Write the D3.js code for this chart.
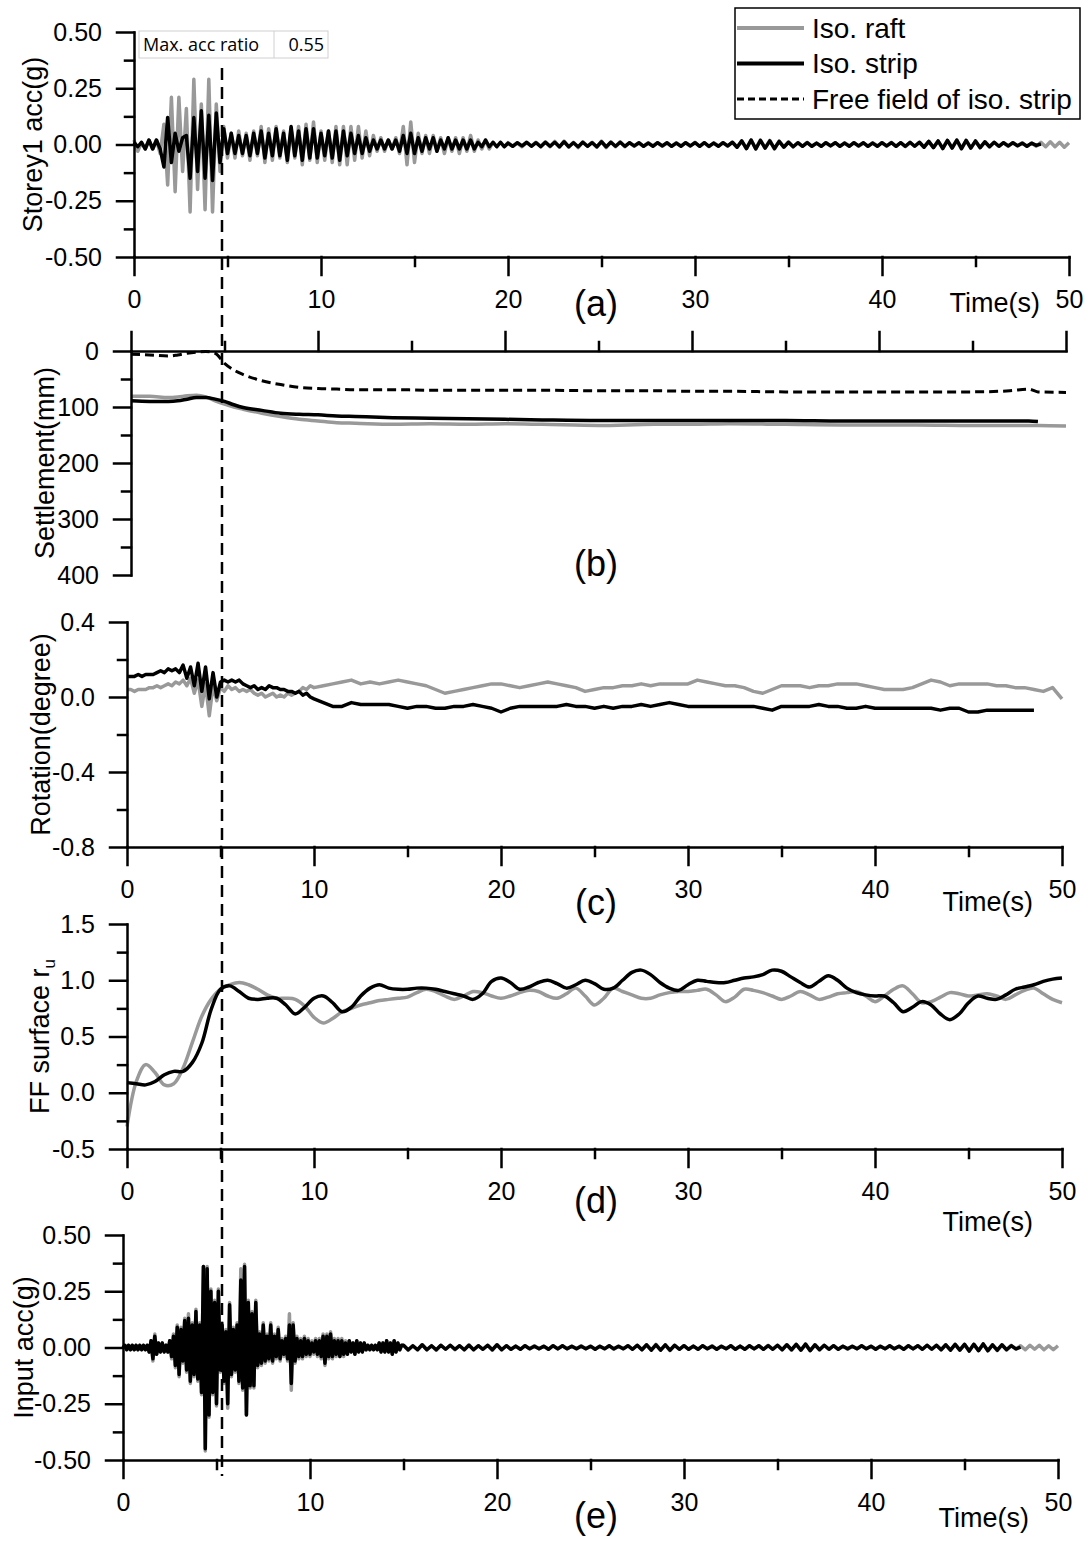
<!DOCTYPE html>
<html lang="en">
<head>
<meta charset="utf-8">
<title>Storey acc, settlement, rotation, r_u and input acc</title>
<script src="https://cdn.jsdelivr.net/npm/d3@7"></script>
<style>
  body { margin: 0; background: #fff; }
  svg text { font-family: "Liberation Sans", Arial, sans-serif; fill: #000; }
  .axis path, .axis line { stroke: #000; stroke-width: 2.5; stroke-linecap: square; }
  .axis text { font-size: 25px; font-family: "Liberation Sans", Arial, sans-serif; }
  .raft { fill: none; stroke: #999; stroke-width: 3.5; stroke-linejoin: round; }
  .strip { fill: none; stroke: #000; stroke-width: 3.5; stroke-linejoin: round; }
  .ff { fill: none; stroke: #000; stroke-width: 3; stroke-dasharray: 9,5; }
</style>
</head>
<body>
<div id="chart"></div>
<script>
// ---- data ----
var timeMajor = [0, 10, 20, 30, 40, 50];
var timeMinor = [5, 15, 25, 35, 45];
var seriesNames = ["Iso. raft", "Iso. strip", "Free field of iso. strip"];
var maxAccRatio = "0.55";

// (a) storey 1 acceleration (g): head every 0.2 s from 0 s, tail every 0.25 s from 20 s
var accRaftHead = [.02,-.03,.01,-.02,.02,-.02,.02,-.04,.09,-.18,
  .21,-.21,.21,-.12,.16,-.30,.29,-.20,.18,-.29,
  .29,-.30,.18,-.12,.08,-.06,.05,-.06,.06,-.05,
  .05,-.07,.06,-.05,.08,-.08,.07,-.07,.08,-.06,
  .06,-.08,.07,-.06,.08,-.09,.09,-.07,.10,-.08,
  .06,-.07,.06,-.08,.08,-.09,.08,-.09,.08,-.07,
  .08,-.06,.06,-.05,.04,-.03,.03,-.03,.02,-.02,
  .03,-.04,.08,-.09,.10,-.08,.05,-.04,.04,-.04,
  .04,-.03,.03,-.04,.03,-.03,.03,-.04,.03,-.03,
  .04,-.03,.02,-.02,.02,-.02,.01,-.01,.01,-.01];
var accRaftTail = [.008,-.008,.006,-.010,.008,-.006,.010,-.008,.012,-.010,.014,-.012,
  .015,-.012,.010,-.014,.012,-.008,.010,-.012,.015,-.014,.012,-.010,
  .012,-.010,.008,-.008,.006,-.008,.008,-.006,.008,-.008,.006,-.008,
  .008,-.006,.008,-.008,.010,-.008,.008,-.010,.008,-.006,.008,-.008,
  .010,-.012,.015,-.018,.020,-.018,.020,-.016,.018,-.020,.015,-.012,
  .012,-.010,.008,-.008,.010,-.008,.006,-.008,.008,-.006,.008,-.008,
  .008,-.006,.008,-.008,.006,-.008,.008,-.006,.008,-.008,.010,-.008,
  .008,-.010,.008,-.008,.010,-.012,.014,-.012,.015,-.016,.018,-.015,
  .018,-.020,.018,-.016,.015,-.014,.012,-.010,.010,-.008,.008,-.008,
  .008,-.006,.008,-.008,.006,-.008,.010,-.010,.012,-.010,.010,-.012,
  .008];
var accStripHead = [.01,-.01,.01,-.02,.02,-.02,.02,-.02,-.10,.12,
  -.08,.05,-.03,.03,.04,-.15,.12,-.12,.15,-.15,
  .13,-.16,.14,-.08,.07,-.04,.05,-.04,.04,-.04,
  .04,-.05,.05,-.04,.06,-.06,.05,-.05,.07,-.05,
  .05,-.07,.08,-.05,.06,-.07,.07,-.06,.07,-.06,
  .05,-.05,.06,-.06,.06,-.07,.06,-.05,.05,-.04,
  .04,-.04,.03,-.03,.02,-.02,.02,-.02,.02,-.02,
  .02,-.03,.04,-.04,.05,-.04,.03,-.03,.03,-.02,
  .03,-.03,.02,-.02,.03,-.02,.02,-.02,.02,-.02,
  .02,-.02,.01,-.01,.02,-.01,.01,-.01,.01,-.01];
var accStripTail = [.006,-.008,.008,-.006,.010,-.008,.008,-.010,.010,-.008,.010,-.010,
  .012,-.010,.008,-.010,.010,-.008,.008,-.010,.012,-.010,.010,-.008,
  .010,-.008,.008,-.006,.008,-.008,.006,-.008,.008,-.006,.008,-.008,
  .006,-.008,.008,-.006,.008,-.008,.008,-.008,.006,-.008,.008,-.006,
  .010,-.012,.016,-.018,.020,-.020,.018,-.016,.016,-.018,.014,-.012,
  .010,-.010,.008,-.008,.008,-.008,.006,-.008,.008,-.006,.008,-.008,
  .006,-.008,.008,-.006,.008,-.008,.006,-.008,.008,-.006,.008,-.008,
  .008,-.008,.010,-.008,.010,-.012,.014,-.014,.016,-.018,.018,-.016,
  .020,-.018,.018,-.016,.016,-.014,.012,-.010,.010,-.008,.008,-.006,
  .008,-.006,.006,-.008,.006,-.004,.002];

// (b) settlement (mm)
var settleT     = [0,1,2,2.5,3,3.5,4,4.5,5,5.5,6,7,8,9,10,11,12,14,16,18,20,22,25,28,30,32,35,38,40,42,45,47,48,48.5,50];
var settleRaft  = [81,81,83,82,80,79,82,89,95,100,104,111,117,122,125,128,129,131,130,131,130,131,133,131,131,130,131,132,132,132,133,133,133,133,134];
var settleStrip = [89,90,90,89,86,83,83,86,90,96,101,106,111,113,114,116,117,119,120,121,122,123,124,124,124,124,124,125,125,125,125,125,125,126,null];
var settleFF    = [6,7,9,7,4,2,1,4,22,34,42,53,60,65,67,68,69,69,70,70,70,70,71,71,72,72,73,73,73,73,73,71,68,73,74];

// (c) rotation (degree): head every 0.2 s from 0 s, tail every 0.5 s from 10 s
var rotRaftHead = [.04,.04,.03,.04,.04,.04,.05,.05,.06,.05,
  .06,.07,.06,.08,.07,.09,.06,.10,.02,.09,
  -.05,.07,-.10,.06,-.02,.05,.03,.06,.04,.05,
  .03,.04,.03,.04,.02,.01,.02,.00,.01,.02,
  .00,.01,.00,.02,.01,.02,.03,.05,.04,.06];
var rotRaftTail = [.05,.06,.07,.08,.09,.07,.08,.07,.08,.09,
  .08,.07,.06,.04,.02,.03,.04,.05,.06,.07,
  .07,.06,.05,.06,.07,.08,.07,.06,.05,.03,
  .04,.05,.05,.06,.06,.07,.06,.07,.07,.07,
  .07,.09,.08,.07,.06,.06,.05,.03,.02,.04,
  .06,.06,.06,.05,.06,.06,.07,.07,.07,.06,
  .05,.04,.04,.04,.05,.07,.09,.08,.06,.07,
  .07,.07,.07,.06,.06,.05,.05,.04,.03,.05,-.01];
var rotStripHead = [.11,.11,.11,.12,.11,.12,.12,.12,.13,.14,
  .13,.15,.14,.15,.13,.17,.10,.16,.06,.18,
  .03,.16,-.01,.13,.00,.08,.09,.08,.09,.08,
  .09,.07,.06,.05,.06,.04,.05,.04,.06,.05,
  .05,.04,.04,.03,.03,.02,.03,.01,.02,.00];
var rotStripTail = [-.01,-.03,-.05,-.05,-.03,-.04,-.04,-.04,-.04,-.05,
  -.06,-.05,-.05,-.06,-.06,-.05,-.05,-.04,-.05,-.06,
  -.08,-.06,-.05,-.05,-.05,-.05,-.05,-.04,-.05,-.05,
  -.06,-.05,-.06,-.05,-.05,-.04,-.05,-.04,-.03,-.04,
  -.05,-.05,-.05,-.05,-.05,-.05,-.05,-.05,-.06,-.07,
  -.05,-.05,-.05,-.05,-.04,-.05,-.05,-.06,-.06,-.05,
  -.06,-.06,-.06,-.06,-.06,-.06,-.06,-.07,-.06,-.06,
  -.08,-.08,-.07,-.07,-.07,-.07,-.07,-.07];

// (d) free-field surface r_u, every 0.5 s from 0 s
var ruRaft = [-.30,.10,.25,.18,.07,.08,.22,.45,.68,.83,
  .92,.96,.98,.96,.92,.87,.84,.84,.83,.77,
  .67,.62,.66,.72,.75,.78,.80,.82,.83,.84,
  .85,.89,.92,.90,.86,.83,.86,.90,.89,.86,
  .84,.86,.89,.91,.90,.86,.84,.88,.93,.86,
  .78,.84,.93,.90,.87,.84,.84,.87,.89,.90,
  .90,.91,.92,.87,.81,.85,.92,.91,.89,.86,
  .83,.86,.90,.87,.83,.85,.88,.89,.90,.86,
  .81,.86,.92,.95,.88,.80,.81,.85,.89,.88,
  .86,.87,.88,.86,.83,.87,.91,.93,.88,.83,.80];
var ruStrip = [.09,.08,.07,.10,.16,.19,.19,.27,.44,.74,
  .92,.95,.90,.84,.83,.84,.84,.78,.70,.76,
  .84,.86,.80,.72,.76,.86,.93,.96,.93,.92,
  .92,.93,.93,.92,.90,.88,.86,.83,.88,.99,
  1.02,.98,.92,.94,.98,1.00,.97,.93,.96,1.00,
  .97,.92,.93,1.00,1.07,1.09,1.05,.98,.93,.91,
  .96,1.00,.99,.98,.98,1.00,1.02,1.03,1.05,1.09,
  1.08,1.03,.98,.94,.99,1.04,1.00,.93,.89,.87,
  .86,.86,.80,.72,.76,.81,.78,.70,.65,.70,
  .80,.86,.84,.83,.87,.92,.94,.96,.99,1.01,1.02];

// (e) input acceleration (g): head every 0.1 s from 0 s, tail every 0.25 s from 15 s
var inRaftHead = [.00,.01,-.01,.01,-.01,.01,-.01,.01,-.01,.01,
  -.01,.01,-.01,.01,-.02,.03,-.06,.06,-.03,.02,
  -.02,.02,-.02,.01,-.02,.03,-.05,.06,-.09,.10,
  -.13,.09,-.07,.13,-.11,.15,-.16,.11,-.13,.17,
  -.15,.11,-.21,.36,-.46,.36,-.31,.26,-.21,.21,
  -.26,.26,-.11,.11,-.16,.08,-.27,.20,-.13,.09,
  -.11,.11,-.16,.35,-.19,.37,-.30,.21,-.18,.16,
  -.18,.21,-.09,.07,-.08,.11,-.07,.06,-.06,.11,
  -.07,.06,-.05,.09,-.06,.04,-.04,.05,-.06,.15,
  -.19,.11,-.07,.05,-.05,.04,-.05,.05,-.04,.04,
  -.04,.03,-.03,.04,-.04,.04,-.05,.06,-.08,.06,
  -.05,.07,-.05,.04,-.04,.04,-.04,.04,-.04,.03,
  -.03,.03,-.02,.02,-.03,.03,-.02,.02,-.02,.02,
  -.01,.01,-.01,.01,-.01,.01,-.01,.02,-.02,.02,
  -.02,.03,-.02,.02,-.03,.03,-.02,.02,-.01,.01];
var inRaftTail = [.010,-.012,.008,-.010,.012,-.010,.008,-.012,.010,-.008,.010,-.010,
  .008,-.010,.012,-.010,.008,-.008,.010,-.012,.012,-.010,.008,-.008,
  .006,-.008,.008,-.006,.008,-.006,.006,-.008,.008,-.006,.008,-.006,
  .006,-.006,.008,-.006,.006,-.008,.006,-.006,.008,-.008,.006,-.006,
  .008,-.008,.010,-.010,.012,-.012,.014,-.012,.012,-.014,.010,-.008,
  .008,-.008,.006,-.008,.008,-.006,.008,-.008,.006,-.006,.008,-.008,
  .006,-.008,.008,-.006,.008,-.008,.010,-.008,.010,-.010,.012,-.012,
  .014,-.012,.015,-.014,.012,-.010,.010,-.008,.008,-.008,.006,-.008,
  .006,-.006,.008,-.006,.006,-.008,.006,-.006,.008,-.006,.006,-.008,
  .008,-.006,.008,-.008,.010,-.008,.010,-.010,.012,-.012,.014,-.012,
  .014,-.016,.015,-.014,.016,-.015,.012,-.014,.012,-.010,.010,-.008,
  .008,-.010,.010,-.008,.010,-.010,.008,-.010,.008];
var inStripHead = [.00,.01,-.01,.01,-.01,.01,-.01,.01,-.01,.01,
  -.01,.01,-.01,.01,-.02,.03,-.05,.05,-.03,.02,
  -.02,.02,-.02,.01,-.02,.03,-.04,.05,-.08,.09,
  -.12,.08,-.06,.12,-.10,.13,-.15,.10,-.12,.16,
  -.14,.10,-.20,.36,-.45,.35,-.30,.25,-.20,.20,
  -.25,.25,-.10,.10,-.15,.07,-.25,.19,-.12,.08,
  -.10,.10,-.15,.30,-.18,.36,-.30,.20,-.17,.15,
  -.17,.20,-.08,.06,-.07,.10,-.06,.05,-.05,.10,
  -.06,.05,-.04,.08,-.05,.03,-.03,.04,-.05,.10,
  -.16,.10,-.06,.04,-.04,.03,-.04,.04,-.03,.03,
  -.03,.02,-.02,.03,-.03,.03,-.04,.05,-.07,.05,
  -.04,.06,-.04,.03,-.03,.03,-.04,.03,-.03,.02,
  -.03,.03,-.02,.02,-.03,.03,-.02,.02,-.02,.02,
  -.01,.01,-.01,.01,-.01,.01,-.01,.02,-.02,.02,
  -.02,.03,-.02,.02,-.03,.03,-.02,.02,-.01,.01];
var inStripTail = [.010,-.010,.008,-.010,.012,-.010,.008,-.010,.010,-.008,.010,-.008,
  .008,-.010,.010,-.010,.008,-.008,.010,-.010,.012,-.010,.008,-.008,
  .006,-.008,.008,-.006,.006,-.006,.006,-.008,.008,-.006,.008,-.006,
  .006,-.006,.006,-.006,.006,-.008,.006,-.006,.008,-.006,.006,-.006,
  .008,-.008,.010,-.010,.012,-.012,.012,-.012,.012,-.012,.010,-.008,
  .008,-.008,.006,-.008,.008,-.006,.006,-.008,.006,-.006,.008,-.008,
  .006,-.008,.008,-.006,.008,-.008,.008,-.008,.010,-.010,.012,-.010,
  .014,-.012,.015,-.014,.012,-.010,.010,-.008,.008,-.008,.006,-.006,
  .006,-.006,.008,-.006,.006,-.008,.006,-.006,.008,-.006,.006,-.008,
  .008,-.006,.008,-.008,.010,-.008,.010,-.010,.012,-.012,.014,-.012,
  .014,-.016,.014,-.014,.016,-.014,.012,-.012,.012,-.010,.008,-.006,
  .002];

var markTime = 5.08;   // vertical dashed marker (s)

// ---- helpers ----
function seq(vals, t0, dt) {
  return vals.map(function(v, i) { return [t0 + i * dt, v]; });
}
function pairs(ts, vs) {
  return ts.map(function(t, i) { return [t, vs[i]]; });
}
function fix(n) { return function(d) { return d.toFixed(n); }; }

var W = 1090, H = 1542;
var svg = d3.select("#chart").append("svg")
  .attr("width", W).attr("height", H);

// panel layout
var panels = [
  { id: "a", x0: 134, x1: 1069, yTop: 32, yBot: 257, dom: [-0.5, 0.5],
    major: [-0.5, -0.25, 0, 0.25, 0.5], minor: [-0.375, -0.125, 0.125, 0.375], fmt: fix(2),
    title: "Storey1 acc(g)", titleX: 33, tag: "(a)", tagY: 303, timeY: 303,
    lines: [
      { cls: "raft", data: seq(accRaftHead, 0, 0.2).concat(seq(accRaftTail, 20, 0.25)) },
      { cls: "strip", data: seq(accStripHead, 0, 0.2).concat(seq(accStripTail, 20, 0.25)) }
    ] },
  { id: "b", x0: 131, x1: 1066, yTop: 351, yBot: 575, dom: [400, 0], top: true,
    major: [0, 100, 200, 300, 400], minor: [50, 150, 250, 350], fmt: fix(0),
    title: "Settlement(mm)", titleX: 45, tag: "(b)", tagY: 563,
    curve: d3.curveMonotoneX,
    lines: [
      { cls: "raft", data: pairs(settleT, settleRaft) },
      { cls: "strip", data: pairs(settleT, settleStrip) },
      { cls: "ff", data: pairs(settleT, settleFF) }
    ] },
  { id: "c", x0: 127, x1: 1062, yTop: 622, yBot: 847, dom: [-0.8, 0.4],
    major: [-0.8, -0.4, 0, 0.4], minor: [-0.6, -0.2, 0.2], fmt: fix(1),
    title: "Rotation(degree)", titleX: 41, tag: "(c)", tagY: 902, timeY: 902,
    lines: [
      { cls: "raft", data: seq(rotRaftHead, 0, 0.2).concat(seq(rotRaftTail, 10, 0.5)) },
      { cls: "strip", data: seq(rotStripHead, 0, 0.2).concat(seq(rotStripTail, 10, 0.5)) }
    ] },
  { id: "d", x0: 127, x1: 1062, yTop: 924, yBot: 1149, dom: [-0.5, 1.5],
    major: [-0.5, 0, 0.5, 1, 1.5], minor: [-0.25, 0.25, 0.75, 1.25], fmt: fix(1),
    title: "FF surface r", sub: "u", titleX: 40, tag: "(d)", tagY: 1200, timeY: 1222,
    curve: d3.curveCatmullRom.alpha(0.5),
    lines: [
      { cls: "raft", data: seq(ruRaft, 0, 0.5) },
      { cls: "strip", data: seq(ruStrip, 0, 0.5) }
    ] },
  { id: "e", x0: 123, x1: 1058, yTop: 1235, yBot: 1460, dom: [-0.5, 0.5],
    major: [-0.5, -0.25, 0, 0.25, 0.5], minor: [-0.375, -0.125, 0.125, 0.375], fmt: fix(2),
    title: "Input acc(g)", titleX: 24, tag: "(e)", tagY: 1515, timeY: 1518,
    lines: [
      { cls: "raft", data: seq(inRaftHead, 0, 0.1).concat(seq(inRaftTail, 15, 0.25)) },
      { cls: "strip", data: seq(inStripHead, 0, 0.1).concat(seq(inStripTail, 15, 0.25)) }
    ] }
];

var scales = {};

panels.forEach(function(p) {
  var g = svg.append("g").attr("class", "panel-" + p.id);
  var x = d3.scaleLinear().domain([0, 50]).range([p.x0, p.x1]);
  var y = d3.scaleLinear().domain(p.dom).range([p.yBot, p.yTop]);
  scales[p.id] = { x: x, y: y };

  // data first so the axes sit on top
  var line = d3.line()
    .defined(function(d) { return d[1] != null; })
    .x(function(d) { return x(d[0]); })
    .y(function(d) { return y(d[1]); });
  if (p.curve) line.curve(p.curve);
  p.lines.forEach(function(s) {
    g.append("path").attr("class", s.cls).attr("d", line(s.data));
  });

  // x axis (bottom, or top for the settlement panel)
  var axisY = p.top ? p.yTop : p.yBot;
  var mk = p.top ? d3.axisTop : d3.axisBottom;
  g.append("g").attr("class", "axis")
    .attr("transform", "translate(0," + axisY + ")")
    .call(mk(x).tickValues(timeMajor).tickSize(p.top ? 19 : 18).tickSizeOuter(0)
      .tickPadding(15).tickFormat(p.top ? "" : function(d) { return d; }));
  g.append("g").attr("class", "axis")
    .attr("transform", "translate(0," + axisY + ")")
    .call(mk(x).tickValues(timeMinor).tickSize(9).tickFormat(""))
    .call(function(a) { a.select(".domain").remove(); });

  // y axis
  g.append("g").attr("class", "axis")
    .attr("transform", "translate(" + p.x0 + ",0)")
    .call(d3.axisLeft(y).tickValues(p.major).tickSize(17).tickSizeOuter(0)
      .tickPadding(15).tickFormat(p.fmt));
  g.append("g").attr("class", "axis")
    .attr("transform", "translate(" + p.x0 + ",0)")
    .call(d3.axisLeft(y).tickValues(p.minor).tickSize(9).tickFormat(""))
    .call(function(a) { a.select(".domain").remove(); });

  // y title
  var yMid = (p.yTop + p.yBot) / 2;
  var t = g.append("text")
    .attr("transform", "translate(" + p.titleX + "," + yMid + ") rotate(-90)")
    .attr("text-anchor", "middle")
    .attr("dy", "0.35em")
    .style("font-size", "27px")
    .text(p.title);
  if (p.sub) {
    t.append("tspan").attr("dy", "0.3em").style("font-size", "17px").text(p.sub);
  }

  // panel tag and time label
  g.append("text")
    .attr("x", 596).attr("y", p.tagY).attr("dy", "0.35em")
    .attr("text-anchor", "middle")
    .style("font-size", "36px")
    .text(p.tag);
  if (p.timeY) {
    g.append("text")
      .attr("x", p.x1 - 29).attr("y", p.timeY).attr("dy", "0.35em")
      .attr("text-anchor", "end")
      .style("font-size", "27px")
      .text("Time(s)");
  }
});

// vertical dashed marker through all panels
svg.append("line")
  .attr("x1", scales.c.x(markTime)).attr("x2", scales.c.x(markTime))
  .attr("y1", 68).attr("y2", 1476)
  .attr("stroke", "#000").attr("stroke-width", 2.5)
  .attr("stroke-dasharray", "12,7");

// max acc ratio table
var tb = svg.append("g");
tb.append("rect").attr("x", 139).attr("y", 31).attr("width", 189).attr("height", 27)
  .attr("fill", "#fff").attr("stroke", "#d0d0d0").attr("stroke-width", 1);
tb.append("line").attr("x1", 274).attr("x2", 274).attr("y1", 31).attr("y2", 58)
  .attr("stroke", "#d0d0d0").attr("stroke-width", 1);
tb.append("text").attr("x", 143).attr("y", 51)
  .style("font-family", "'Open Sans', 'Noto Sans', sans-serif").style("font-size", "18px")
  .text("Max. acc ratio");
tb.append("text").attr("x", 324).attr("y", 51).attr("text-anchor", "end")
  .style("font-family", "'Open Sans', 'Noto Sans', sans-serif").style("font-size", "18px")
  .text(maxAccRatio);

// legend
var lg = svg.append("g");
lg.append("rect").attr("x", 735).attr("y", 8).attr("width", 345).attr("height", 111)
  .attr("fill", "#fff").attr("stroke", "#000").attr("stroke-width", 1.5);
var legCls = ["raft", "strip", "ff"];
seriesNames.forEach(function(name, i) {
  var cy = 28 + i * 35.5;
  lg.append("line").attr("class", legCls[i])
    .attr("x1", 737).attr("x2", 804).attr("y1", cy).attr("y2", cy)
    .style("stroke-width", legCls[i] === "ff" ? 3 : 4)
    .style("stroke-dasharray", legCls[i] === "ff" ? "7,4" : null);
  lg.append("text").attr("x", 812).attr("y", cy).attr("dy", "0.35em")
    .style("font-size", "28px").text(name);
});
</script>
</body>
</html>
